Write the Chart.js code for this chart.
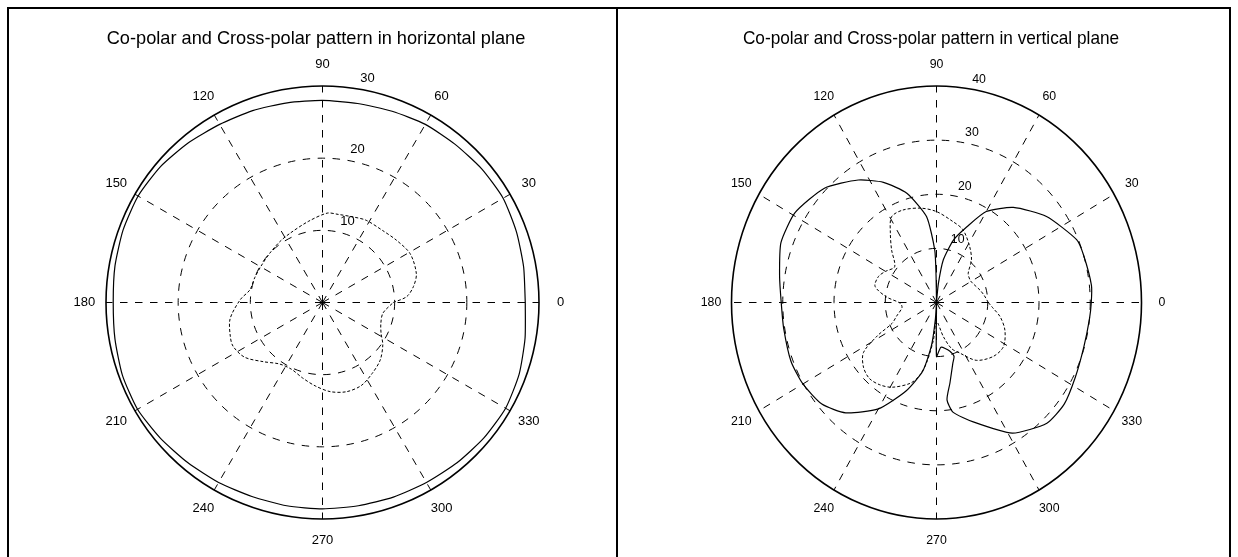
<!DOCTYPE html>
<html>
<head>
<meta charset="utf-8">
<script src="https://cdn.jsdelivr.net/npm/chart.js@4.4.1/dist/chart.umd.min.js"></script>
<style>
html, body { margin: 0; padding: 0; overflow: hidden; background: #fff; }
#frame { position: absolute; left: 7px; top: 7px; width: 1220px; height: 600px; border: 2px solid #000; }
#divider { position: absolute; left: 616px; top: 7px; width: 2px; height: 560px; background: #000; }
canvas { position: absolute; top: 0; }
</style>
</head>
<body>
<div id="frame"></div>
<div id="divider"></div>
<canvas id="hPlane" width="620" height="557" style="left:0"></canvas>
<canvas id="vPlane" width="618" height="557" style="left:620px"></canvas>
<script>
// angle grid, shared by both plots
const spokeAngles = [0, 30, 60, 90, 120, 150, 180, 210, 240, 270, 300, 330];
const spokeLabels = ['0', '30', '60', '90', '120', '150', '180', '210', '240', '270', '300', '330'];

// horizontal plane
const hTitle = 'Co-polar and Cross-polar pattern in horizontal plane';
const hRings = [10, 20, 30];
const hCoAngles = [0, 10, 20, 30, 40, 50, 60, 70, 80, 90, 100, 110, 120, 130, 140, 150, 160, 170,
  180, 190, 200, 210, 220, 230, 240, 250, 260, 270, 280, 290, 300, 310, 320, 330, 340, 350, 360];
const hCoPolar = [28.1, 28.3, 28.6, 28.9, 28.8, 28.6, 28.5, 28.2, 28.0, 28.0, 28.1, 28.3, 28.5, 28.9, 29.3, 29.5, 29.4, 29.2,
  29.0, 29.2, 29.5, 29.6, 29.3, 29.0, 28.8, 28.6, 28.6, 28.6, 28.6, 28.7, 28.8, 29.0, 29.2, 29.3, 29.0, 28.5, 28.1];
const hCrossAngles = [0, 4, 10, 17, 29, 40, 50, 62, 70, 80, 87, 100, 115, 125, 137, 150, 160, 170, 178,
  190, 200, 206, 215, 225, 235, 245, 255, 265, 275, 285, 295, 305, 315, 325, 332, 340, 350, 360];
const hCrossPolar = [9.8, 11.7, 12.8, 13.6, 13.9, 13.4, 13.0, 12.9, 12.6, 12.4, 12.4, 11.4, 10.6, 10.3, 10.0, 9.9, 10.0, 10.2, 11.4,
  13.0, 13.6, 13.8, 13.2, 11.6, 10.4, 10.2, 10.8, 11.6, 12.4, 12.8, 12.7, 12.0, 11.3, 10.2, 9.2, 8.6, 8.5, 9.8];

// vertical plane
const vTitle = 'Co-polar and Cross-polar pattern in vertical plane';
const vRings = [10, 20, 30, 40];
const vCoAngles = [90, 91, 92, 97, 106, 115, 124, 136, 149, 160, 171, 180, 189, 201, 210, 220, 229, 240, 250, 258, 263, 266, 270,
  270, 276, 286, 289, 286, 280, 276.5, 279, 288, 301.5, 314, 323, 333, 344, 354, 360, 366, 377, 383, 396.5, 409.5, 420, 427, 434, 440.4, 444, 448, 450];
const vCoPolar = [0.3, 5, 9.7, 16.0, 21.0, 24.5, 27.3, 30.4, 32.2, 32.3, 31.0, 30.3, 30.2, 30.4, 30.1, 29.2, 27.0, 22.7, 17.4, 13.0, 8.0, 3.0, 0,
  10.0, 8.3, 9.3, 10.5, 11.6, 15.1, 18.1, 20.5, 23.2, 28.3, 31.0, 31.2, 30.4, 29.9, 30.0, 30.2, 30.4, 30.0, 29.7, 26.7, 23.1, 19.4, 15.2, 12.0, 8.0, 3.56, 0.3, 0.3];
const vCrossAngles = [0, 8, 15, 25, 32, 41, 49, 58, 69, 78, 90, 100, 111, 119, 125, 132, 141, 150, 157, 166, 174, 181, 188,
  198, 204, 208, 213, 220, 227, 234, 241, 251, 256, 260, 265, 270, 282, 289, 296, 306, 318, 328, 339, 348, 355, 360];
const vCrossPolar = [10.1, 9.4, 8.8, 8.0, 7.75, 8.2, 10.4, 12.2, 14.4, 15.3, 16.8, 17.7, 18.3, 18.1, 15.7, 13.1, 10.5, 11.5, 12.3, 12.35, 9.8, 7.1, 6.8,
  8.2, 9.5, 13.0, 17.0, 18.6, 19.2, 18.8, 17.9, 15.8, 14.0, 11.4, 7.0, 3.5, 6.45, 9.0, 10.4, 13.2, 14.9, 15.4, 14.3, 12.7, 11.0, 10.1];

const deg = Math.PI / 180;
function toXY(angles, radii) {
  return angles.map((a, i) => ({ x: radii[i] * Math.cos(a * deg), y: radii[i] * Math.sin(a * deg) }));
}

// text squeezed sideways like the right-hand picture
function putText(ctx, text, px, py, sx) {
  ctx.save();
  ctx.translate(px, py);
  ctx.scale(sx, 1);
  ctx.fillText(text, 0, 0);
  ctx.restore();
}

// dashed rings + spokes, solid outer ring, labels and title
const polarFrame = {
  id: 'polarFrame',
  beforeDatasetsDraw(chart, args, o) {
    const { ctx, scales: { x, y } } = chart;
    const cx = x.getPixelForValue(0), cy = y.getPixelForValue(0);
    const rmax = o.rings[o.rings.length - 1];
    const rx = r => x.getPixelForValue(r) - cx;
    const ry = r => cy - y.getPixelForValue(r);
    ctx.save();
    ctx.strokeStyle = '#000';
    ctx.lineWidth = 1;
    ctx.setLineDash([7.5, 7.5]);
    o.rings.slice(0, -1).forEach(r => {
      ctx.beginPath();
      ctx.ellipse(cx, cy, rx(r), ry(r), 0, 0, 2 * Math.PI);
      ctx.stroke();
    });
    spokeAngles.forEach(a => {
      ctx.beginPath();
      ctx.moveTo(cx, cy);
      ctx.lineTo(cx + rx(rmax) * Math.cos(a * deg), cy - ry(rmax) * Math.sin(a * deg));
      ctx.stroke();
    });
    ctx.setLineDash([]);
    ctx.lineWidth = 1.6;
    ctx.beginPath();
    ctx.ellipse(cx, cy, rx(rmax), ry(rmax), 0, 0, 2 * Math.PI);
    ctx.stroke();
    ctx.restore();
  },
  afterDraw(chart, args, o) {
    const { ctx, scales: { x, y } } = chart;
    const rmax = o.rings[o.rings.length - 1];
    ctx.save();
    ctx.fillStyle = '#000';
    ctx.font = '13px Arial, "Liberation Sans", sans-serif';
    ctx.textAlign = 'center';
    ctx.textBaseline = 'middle';
    spokeAngles.forEach((a, i) => {
      const r = 1.1 * rmax;
      putText(ctx, spokeLabels[i], x.getPixelForValue(r * Math.cos(a * deg)), y.getPixelForValue(r * Math.sin(a * deg)), o.squeeze);
    });
    ctx.textAlign = 'left';
    ctx.textBaseline = 'bottom';
    const pad = ctx.measureText('  ').width * o.squeeze;
    const step = o.rings[0];
    o.rings.forEach(r => {
      const rr = r + step / 20;
      putText(ctx, String(r), x.getPixelForValue(rr * Math.cos(82 * deg)) + pad, y.getPixelForValue(rr * Math.sin(82 * deg)), o.squeeze);
    });
    ctx.font = '18.2px Arial, "Liberation Sans", sans-serif';
    ctx.textAlign = 'center';
    ctx.textBaseline = 'alphabetic';
    putText(ctx, o.title, o.titleX, 44, o.squeeze);
    ctx.restore();
  }
};

function makePolar(id, title, titleX, squeeze, rings, pad, co, cross) {
  const rmax = rings[rings.length - 1];
  return new Chart(document.getElementById(id), {
    type: 'scatter',
    data: {
      datasets: [
        { label: 'Co-polar', data: co, showLine: true, borderColor: '#000', borderWidth: 1.2, tension: 0.2 },
        { label: 'Cross-polar', data: cross, showLine: true, borderColor: '#000', borderWidth: 1, borderDash: [3, 2], tension: 0.3 }
      ]
    },
    options: {
      responsive: false,
      devicePixelRatio: 1,
      animation: false,
      layout: { padding: pad },
      elements: { point: { radius: 0, hoverRadius: 0 } },
      scales: {
        x: { type: 'linear', min: -rmax, max: rmax, display: false },
        y: { type: 'linear', min: -rmax, max: rmax, display: false }
      },
      plugins: {
        legend: { display: false },
        tooltip: { enabled: false },
        polarFrame: { rings: rings, title: title, titleX: titleX, squeeze: squeeze }
      }
    },
    plugins: [polarFrame]
  });
}

makePolar('hPlane', hTitle, 316, 1, hRings, { left: 106, right: 81, top: 86, bottom: 38 },
  toXY(hCoAngles, hCoPolar), toXY(hCrossAngles, hCrossPolar));
makePolar('vPlane', vTitle, 311, 0.947, vRings, { left: 111.5, right: 96.5, top: 86, bottom: 38 },
  toXY(vCoAngles, vCoPolar), toXY(vCrossAngles, vCrossPolar));
</script>
</body>
</html>
